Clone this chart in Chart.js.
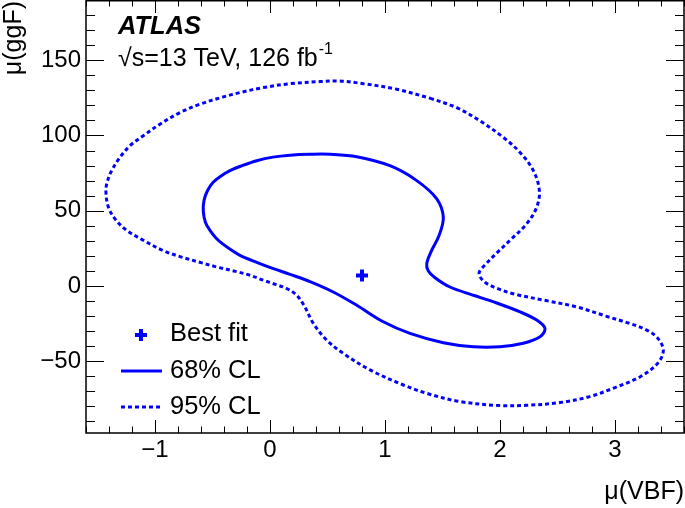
<!DOCTYPE html>
<html>
<head>
<meta charset="utf-8">
<script src="https://cdn.jsdelivr.net/npm/chart.js@4"></script>
<style>
html,body{margin:0;padding:0;background:#fff;}
#wrap{width:685px;height:508px;position:relative;}
</style>
</head>
<body>
<div id="wrap"><canvas id="c" width="685" height="508"></canvas></div>
<script>
// ---- data (closed contours; first point repeated at the end) ----
const cl95X = [1.391,1.623,1.826,2.029,2.174,2.290,2.342,2.319,2.232,2.087,1.98,1.87,1.818,1.86,1.97,2.13,2.40,2.67,2.92,3.13,3.28,3.375,3.42,3.37,3.22,3.0,2.78,2.52,2.23,2.0,1.65,1.36,1.16,0.870,0.637,0.493,0.377,0.30,0.232,0.145,0.04,-0.058,-0.174,-0.29,-0.463,-0.60,-0.77,-0.93,-1.10,-1.246,-1.348,-1.405,-1.426,-1.420,-1.377,-1.304,-1.217,-1.102,-0.957,-0.783,-0.609,-0.406,-0.261,-0.058,0.174,0.435,0.594,0.811,1.102,1.391];
const cl95Y = [124.8,118.5,109.7,98.7,88.7,76.6,63.4,52.3,41.3,30.3,22.5,14.0,8.5,3.0,-1.5,-5.5,-9.7,-14.0,-20.0,-25.0,-29.5,-35.0,-43.0,-51.5,-60.3,-67.5,-73.5,-77.5,-79.3,-79.5,-76.8,-71.3,-65.8,-55.8,-44.8,-36.0,-24.9,-13.5,-6.2,-1.7,1.2,3.8,7.1,9.5,12.6,15.5,19.2,23.5,30.3,36.9,44.6,52.3,61.2,67.8,76.6,85.5,93.2,99.8,107.5,115.2,120.8,125.6,128.5,131.8,134.4,135.8,136.2,134.4,130.7,124.8];
const cl68X = [1.768,1.971,2.174,2.319,2.391,2.348,2.203,2.0,1.768,1.507,1.217,0.985,0.754,0.550,0.348,0.174,0.029,-0.116,-0.261,-0.330,-0.406,-0.470,-0.522,-0.561,-0.580,-0.574,-0.543,-0.496,-0.435,-0.348,-0.243,-0.116,0.026,0.174,0.348,0.522,0.754,1.043,1.276,1.450,1.507,1.470,1.406,1.363,1.377,1.435,1.565,1.768];
const cl68Y = [-6.2,-11.3,-17.2,-22.7,-28.2,-33.8,-38.1,-40.4,-40.4,-37.7,-31.5,-23.8,-12.8,-4.0,2.9,7.7,11.5,15.7,20.3,23.6,27.6,31.9,36.9,42.2,49.5,56.8,63.4,68.7,72.6,76.6,79.9,83.2,85.6,86.9,87.5,87.5,85.9,79.9,70.0,57.9,45.7,33.5,23.7,14.8,10.0,5.5,-0.7,-6.2];
const bestFit = {x: 0.8, y: 7};
const xTickValues = [-1, 0, 1, 2, 3];
const xTickLabels = ["\u22121", "0", "1", "2", "3"];
const yTickValues = [-50, 0, 50, 100, 150];
const yTickLabels = ["\u221250", "0", "50", "100", "150"];
const legendLabels = ["Best fit", "68% CL", "95% CL"];
const xTitle = "\u03bc(VBF)";
const yTitle = "\u03bc(ggF)";
const expLabel = "ATLAS";
const energyLabel = "\u221as=13 TeV, 126 fb";
const lumiExp = "-1";

const BLUE = "#0000ff";
const FONT = "'Liberation Sans', Arial, Helvetica, sans-serif";
const toPts = (xs, ys) => xs.map((v, i) => ({x: v, y: ys[i]}));

const framePlugin = {
  id: 'rootFrame',
  afterDraw(chart) {
    const ctx = chart.ctx;
    const xs = chart.scales.x, ys = chart.scales.y;
    const a = chart.chartArea;
    ctx.save();
    ctx.strokeStyle = '#000';
    ctx.lineWidth = 1;
    // ticks
    ctx.beginPath();
    for (let i = -8; i <= 18; i++) {
      const v = i * 0.2;
      const px = Math.round(xs.getPixelForValue(v)) + 0.5;
      const major = Math.abs(v - Math.round(v)) < 1e-6;
      const len = major ? 13 : 6.5;
      ctx.moveTo(px, a.bottom); ctx.lineTo(px, a.bottom - len);
      ctx.moveTo(px, a.top); ctx.lineTo(px, a.top + len);
    }
    for (let v = -90; v <= 180; v += 10) {
      const py = Math.round(ys.getPixelForValue(v)) + 0.5;
      const major = v % 50 === 0;
      const len = major ? 18 : 9;
      ctx.moveTo(a.left, py); ctx.lineTo(a.left + len, py);
      ctx.moveTo(a.right, py); ctx.lineTo(a.right - len, py);
    }
    ctx.stroke();
    ctx.lineWidth = 1.5;
    ctx.strokeRect(a.left, a.top + 0.75, a.right - a.left, a.bottom - a.top - 0.75);
    // tick labels
    ctx.fillStyle = '#000';
    ctx.font = '24px ' + FONT;
    ctx.textAlign = 'center'; ctx.textBaseline = 'middle';
    xTickValues.forEach((v, i) => ctx.fillText(xTickLabels[i], xs.getPixelForValue(v), 450));
    ctx.textAlign = 'right';
    yTickValues.forEach((v, i) => ctx.fillText(yTickLabels[i], 81, ys.getPixelForValue(v)));
    // axis titles
    ctx.font = '25px ' + FONT;
    ctx.textAlign = 'right';
    ctx.fillText(xTitle, 684, 492);
    ctx.save();
    ctx.translate(14, 1);
    ctx.rotate(-Math.PI / 2);
    ctx.textAlign = 'right';
    ctx.fillText(yTitle, 0, 0);
    ctx.restore();
    // labels
    ctx.textAlign = 'left';
    ctx.font = 'italic bold 25.5px ' + FONT;
    ctx.fillText(expLabel, 118, 27);
    ctx.font = '25px ' + FONT;
    ctx.fillText(energyLabel, 118, 59);
    const w = ctx.measureText(energyLabel).width;
    ctx.font = '16px ' + FONT;
    ctx.fillText(lumiExp, 118 + w + 1, 50);
    // legend
    ctx.font = '25.5px ' + FONT;
    ctx.fillText(legendLabels[0], 170, 334);
    ctx.fillText(legendLabels[1], 170, 371);
    ctx.fillText(legendLabels[2], 170, 407);
    ctx.strokeStyle = BLUE;
    ctx.lineWidth = 4;
    ctx.beginPath();
    ctx.moveTo(135, 335); ctx.lineTo(147, 335);
    ctx.moveTo(141, 329); ctx.lineTo(141, 341);
    ctx.stroke();
    ctx.lineWidth = 3;
    ctx.beginPath(); ctx.moveTo(121, 371); ctx.lineTo(162, 371); ctx.stroke();
    ctx.setLineDash([4, 3]);
    ctx.beginPath(); ctx.moveTo(121, 407); ctx.lineTo(162, 407); ctx.stroke();
    ctx.restore();
  }
};

new Chart(document.getElementById('c'), {
  type: 'scatter',
  data: {
    datasets: [
      {label: legendLabels[2], data: toPts(cl95X, cl95Y), showLine: true, borderColor: BLUE, borderWidth: 3, borderDash: [4, 3], pointRadius: 0, tension: 0.35, fill: false},
      {label: legendLabels[1], data: toPts(cl68X, cl68Y), showLine: true, borderColor: BLUE, borderWidth: 3, pointRadius: 0, tension: 0.35, fill: false},
      {label: legendLabels[0], data: [bestFit], pointStyle: 'cross', pointRadius: 6, borderWidth: 4, borderColor: BLUE, backgroundColor: BLUE}
    ]
  },
  options: {
    responsive: false,
    animation: false,
    layout: {autoPadding: false, padding: {left: 86, right: 1, top: 0, bottom: 75}},
    plugins: {legend: {display: false}, tooltip: {enabled: false}},
    scales: {
      x: {type: 'linear', min: -1.6, max: 3.6, display: false},
      y: {type: 'linear', min: -97.7, max: 190, display: false}
    }
  },
  plugins: [framePlugin]
});
</script>
</body>
</html>
